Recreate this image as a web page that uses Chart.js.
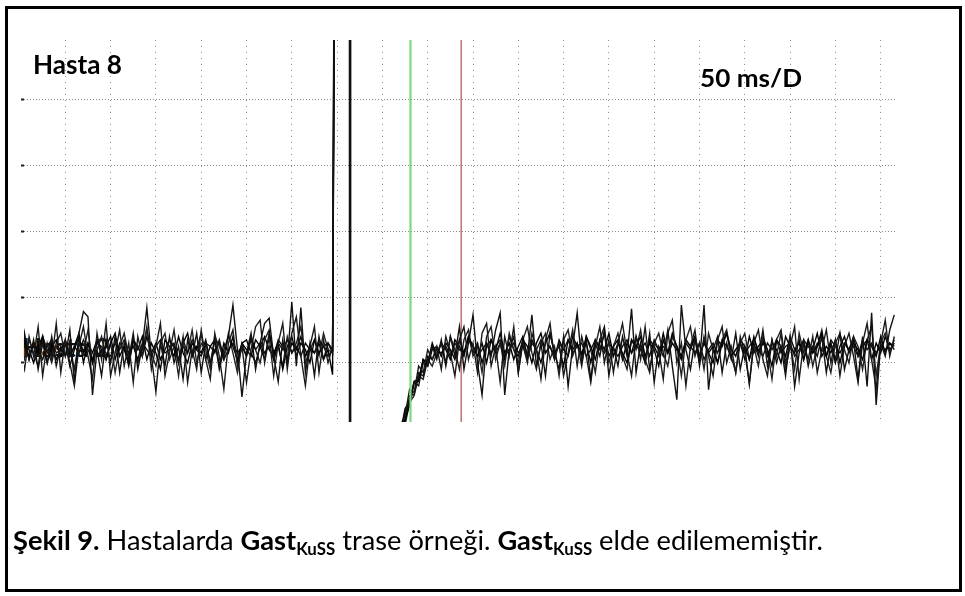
<!DOCTYPE html>
<html><head><meta charset="utf-8">
<script src="https://cdn.jsdelivr.net/npm/chart.js@4.4.1/dist/chart.umd.min.js"></script>
<style>
html,body{margin:0;padding:0;background:#fff;}
body{width:965px;height:596px;position:relative;overflow:hidden;font-family:Lato,"Open Sans",sans-serif;}
#c{position:absolute;left:0;top:0;z-index:2;}
.frame{position:absolute;left:5px;top:6px;width:957px;height:586px;border:3px solid #000;box-sizing:border-box;z-index:3;}
.t{position:absolute;white-space:nowrap;line-height:1;color:#000;transform-origin:0 0;z-index:4;}
.t i{display:inline-block;width:0;height:0;vertical-align:baseline;}
.ghost{z-index:1;color:#111;}
.b{font-weight:700;}
.sub{font-weight:700;font-size:0.62em;position:relative;top:0.3em;}
</style>
</head><body>
<canvas id="c" width="965" height="596"></canvas>
<div class="frame"></div>
<div class="t b" data-x="33" data-base="74" data-w="89" style="font-size:26px">Hasta 8<i></i></div>
<div class="t b" data-x="700" data-base="87" data-w="102" style="font-size:25px">50 ms/D<i></i></div>
<div class="t ghost b" data-x="22" data-base="357" data-w="88" style="font-size:26px">Hasta 2<i></i></div>
<div class="t" data-x="13" data-base="550" data-w="810" style="font-size:26px"><span class="b">Şekil 9.</span> Hastalarda <span class="b">Gast</span><span class="sub">KuSS</span> trase örneği. <span class="b">Gast</span><span class="sub">KuSS</span> elde edilememiştir.<i></i></div>
<script>
// ---- axes (time in ms, amplitude in arbitrary units, 100 per division) ----
const xMinMs = 4.4, xMaxMs = 968;
const yMin = -90, yMax = 491;
const xGridMs = [50,100,150,200,250,300,350,400,450,500,550,600,650,700,750,800,850,900,950];
const yGridVals = [0,100,200,300,400];
const sampleStepMs = 5;
const preStartMs = 0;
const postStartMs = 420;
const artifactUpMs   = [347.2, 347.6, 347.9, 347.4, 348.1, 347.0];
const artifactDownMs = [363.6, 364.2, 364.6, 363.9, 364.9, 364.4];
const artifactHigh = 800, artifactLow = -500;
const greenCursorMs = 431, redCursorMs = 487;

// ---- pre-stimulus samples (0..345 ms) ----
const preA = [-35,45,5,35,-10,30,0,40,-5,25,10,50,-30,45,78,70,-49,20,-20,35,0,40,-15,30,5,45,-10,25,84,10,-44,30,-5,40,0,25,-25,35,10,45,-15,30,0,35,-10,20,40,88,20,-52,15,45,-10,30,60,68,10,-29,35,0,93,-5,84,-15,30,-20,40,5,30,15];
const preB = [20,-10,40,10,55,-20,30,5,60,-15,35,0,-35,25,55,10,-25,45,5,60,-20,15,50,-5,30,-30,40,10,55,-10,25,60,-20,15,50,0,40,-30,20,-10,50,5,-25,45,10,-40,30,50,-5,25,-30,20,55,65,0,40,-20,30,60,-10,45,70,10,-35,25,55,-15,35,0,25];
const preC = [20,35,5,30,15,40,0,25,35,10,30,-5,20,40,15,30,0,35,20,5,30,45,10,25,-5,35,20,40,5,30,15,-10,35,25,10,40,15,0,30,20,45,5,25,35,-5,30,15,40,0,30,20,10,35,25,5,45,15,30,-10,25,40,10,30,20,0,35,15,25,30,20];
const preD = [15,25,10,30,20,5,25,35,15,20,30,10,25,15,35,20,5,30,25,15,10,30,20,35,15,25,5,30,20,10,25,35,15,20,30,5,25,15,35,20,10,30,25,15,35,5,20,30,15,25,10,35,20,30,15,25,5,30,20,35,15,25,10,30,20,15,35,25,10,20];
const preE = [25,5,35,15,-5,40,20,0,30,45,10,25,-10,35,15,50,0,20,40,5,30,-15,25,45,10,35,0,20,50,15,-5,30,45,5,25,-20,35,15,50,0,30,20,-10,40,25,5,45,15,-15,30,10,40,20,0,35,50,5,25,-5,40,15,30,55,0,20,35,10,45,20,15];
const preF = [10,30,20,0,25,40,15,30,5,20,35,10,25,45,0,30,15,35,10,25,40,5,30,20,0,35,25,10,40,15,30,5,20,35,25,0,30,45,10,25,15,35,0,20,30,10,40,25,5,30,35,15,0,25,40,20,10,35,25,5,30,20,40,10,25,15,30,5,20,-18];

// ---- post-stimulus samples (420..965 ms) ----
const postA = [-110,-75,-60,-30,-35,0,-5,25,5,35,-5,40,10,55,-10,30,73,0,-49,30,10,50,76,-49,20,40,-15,35,10,73,-5,30,-20,45,15,-10,40,-36,25,76,0,35,-25,30,10,50,-20,25,-5,40,10,82,-15,30,0,45,-30,25,10,50,-5,-56,88,20,-10,35,0,88,-41,20,40,-15,30,5,45,-10,25,-33,30,10,50,-5,35,0,25,-20,40,-36,15,35,-5,25,10,40,-15,30,5,45,-10,20,35,-25,40,-36,76,-64,30,10,50,73];
const postB = [-95,-80,-40,-45,-5,-15,20,5,25,-10,40,15,-20,35,55,5,30,-15,45,60,-5,25,-30,40,10,55,-15,30,0,45,20,-25,35,60,5,30,-20,15,50,-5,40,10,-30,25,55,0,35,-15,30,60,15,-20,40,5,55,-10,30,20,-25,45,65,0,30,-35,25,50,-5,40,10,-20,35,55,0,25,-15,40,15,-30,30,50,5,-20,35,10,45,-10,25,55,-25,30,5,40,-15,20,50,0,35,-20,25,45,10,-30,30,60,5,-40,30,65,10,40];
const postC = [-120,-85,-65,-30,-28,5,-5,20,25,10,30,20,5,35,15,40,25,10,30,0,35,20,45,15,30,5,25,40,10,35,20,0,30,45,15,25,-5,35,20,30,10,40,25,5,35,20,45,10,30,15,0,35,25,40,10,30,20,-5,35,15,45,25,10,30,20,40,5,35,15,25,0,30,45,20,10,35,25,5,40,15,30,20,-5,35,25,10,40,20,30,5,35,15,25,45,10,30,0,25,40,15,30,20,5,35,25,10,40,15,30,20];
const postD = [-100,-90,-50,-48,-15,-20,10,5,20,15,25,10,30,20,15,35,25,10,20,30,15,25,35,10,20,30,15,25,5,30,20,35,15,25,10,30,20,35,15,25,30,10,20,35,25,15,30,20,10,25,35,15,25,20,30,10,35,20,25,15,30,20,10,35,25,15,30,5,20,30,15,35,25,10,20,30,15,25,35,20,10,30,20,35,15,25,30,10,20,35,25,15,30,20,10,35,25,15,30,20,25,10,35,20,30,15,25,20,30,25];
const postE = [-130,-95,-60,-50,-20,-25,5,-5,15,30,0,40,20,-10,35,50,10,25,-15,40,55,5,30,-5,45,20,0,35,55,15,-10,30,45,5,25,-20,35,50,10,30,-5,40,20,-15,35,55,0,25,45,10,-10,35,20,50,5,-15,30,45,15,-5,40,25,-20,35,55,10,30,-10,45,20,0,35,50,10,-15,30,45,5,25,-5,40,20,-25,35,50,0,30,-10,45,15,35,-5,25,50,10,-15,30,45,20,0,40,25,-10,35,55,-20,30,45,15,35];
const postF = [-105,-70,-58,-28,-25,5,0,30,10,30,20,5,35,25,10,40,15,30,0,25,35,15,30,5,40,20,10,35,25,0,30,45,15,25,5,35,20,10,40,25,15,30,0,35,20,45,10,25,35,5,30,15,40,20,0,35,25,10,45,15,30,20,5,35,25,40,10,30,15,0,35,25,45,10,20,30,5,40,15,25,35,10,30,20,0,40,25,15,35,5,30,20,45,10,25,15,35,0,30,20,40,10,25,35,5,30,15,40,20,30];

const preTraces  = [preA, preB, preC, preD, preE, preF];
const postTraces = [postA, postB, postC, postD, postE, postF];
const traceColors = ['#111','#1a1a1a','#000','#111','#222','#000'];

function buildTrace(k){
  const pts = [];
  preTraces[k].forEach((v,i)=>pts.push({x: preStartMs + i*sampleStepMs, y: v}));
  pts.push({x: artifactUpMs[k], y: artifactHigh});
  pts.push({x: artifactDownMs[k], y: artifactHigh});
  pts.push({x: artifactDownMs[k] + 0.05, y: artifactLow});
  pts.push({x: postStartMs - 3, y: artifactLow});
  postTraces[k].forEach((v,i)=>pts.push({x: postStartMs + i*sampleStepMs, y: v}));
  return pts;
}

const datasets = [];
datasets.push({data:[{x:redCursorMs,y:yMin},{x:redCursorMs,y:yMax}], borderColor:'#c27a72', borderWidth:1.6, order:20});
for (let k=0;k<preTraces.length;k++){
  datasets.push({data: buildTrace(k), borderColor: traceColors[k], borderWidth: 1.4, order: 10});
}
datasets.push({data:[{x:greenCursorMs,y:yMin},{x:greenCursorMs,y:yMax}], borderColor:'#7fd87f', borderWidth:2.2, order:1});

new Chart(document.getElementById('c'), {
  type: 'line',
  data: { datasets },
  options: {
    responsive: false,
    animation: false,
    events: [],
    devicePixelRatio: 1,
    layout: { padding: { left: 21, top: 40, right: 68, bottom: 174 } },
    elements: { point: { radius: 0 }, line: { tension: 0, fill: false } },
    datasets: { line: { clip: 0, spanGaps: true } },
    plugins: { legend: { display: false }, tooltip: { enabled: false }, title: { display: false } },
    scales: {
      x: {
        type: 'linear', min: xMinMs, max: xMaxMs,
        afterBuildTicks: s => { s.ticks = xGridMs.map(v => ({value: v})); },
        ticks: { display: false },
        grid: { color: '#8c8c8c', lineWidth: 1, drawTicks: false },
        border: { display: false, dash: [1, 5] }
      },
      y: {
        type: 'linear', min: yMin, max: yMax,
        afterBuildTicks: s => { s.ticks = yGridVals.map(v => ({value: v})); },
        ticks: { display: false, padding: 0 },
        grid: { color: '#8c8c8c', lineWidth: 1, drawTicks: true, tickLength: 3, tickColor: '#222', tickWidth: 2 },
        border: { display: false, dash: [1, 2] }
      }
    }
  }
});

// position texts by baseline and fit to measured width
document.querySelectorAll('.t').forEach(el => {
  const x = +el.dataset.x, base = +el.dataset.base, w = +el.dataset.w;
  el.style.left = x + 'px';
  el.style.top = '0px';
  const strut = el.querySelector('i');
  const off = strut.offsetTop;
  el.style.top = (base - off) + 'px';
  const cw = el.getBoundingClientRect().width;
  if (cw > 0) el.style.transform = 'scaleX(' + (w / cw).toFixed(4) + ')';
});
</script>
</body></html>
